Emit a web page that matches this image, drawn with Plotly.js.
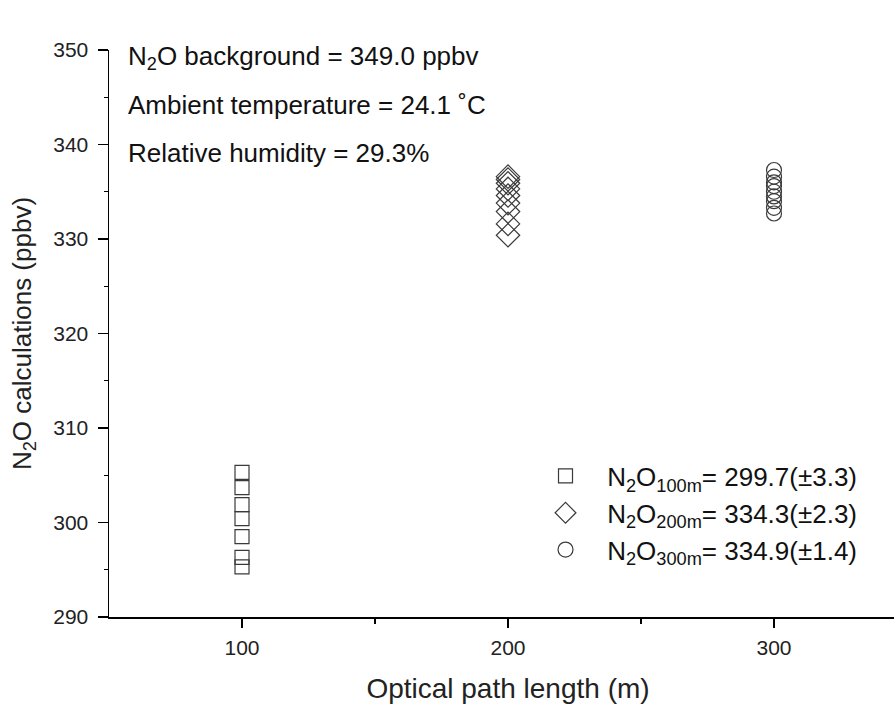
<!DOCTYPE html>
<html>
<head>
<meta charset="utf-8">
<script src="https://cdn.plot.ly/plotly-3.0.1.min.js"></script>
<style>
html,body{margin:0;padding:0;overflow:hidden;background:#fff;}
#chart{width:920px;height:704px;}
</style>
</head>
<body>
<div id="chart"></div>
<script>
// Data
const pathLengths = [100, 200, 300];
const n2o100 = [305.3, 303.7, 301.9, 300.4, 298.5, 296.3, 295.3];
const n2o200 = [336.6, 336.3, 335.9, 335.3, 334.6, 333.8, 332.9, 331.6, 330.4];
const n2o300 = [337.3, 336.6, 336.0, 335.6, 335.0, 334.5, 334.0, 333.3, 332.7];
const seriesNames = [
  '&nbsp;&nbsp;&nbsp;N<sub>2</sub>O<sub>100m</sub>= 299.7(±3.3)',
  '&nbsp;&nbsp;&nbsp;N<sub>2</sub>O<sub>200m</sub>= 334.3(±2.3)',
  '&nbsp;&nbsp;&nbsp;N<sub>2</sub>O<sub>300m</sub>= 334.9(±1.4)'
];
const xTicks = [100, 200, 300];
const yTicks = [290, 300, 310, 320, 330, 340, 350];
const infoLines = [
  'N<sub>2</sub>O background = 349.0 ppbv',
  'Ambient temperature = 24.1 ˚C',
  'Relative humidity = 29.3%'
];

const markerColor = '#3a3a3a';
function mk(xv, ys, sym, size, name) {
  return {
    x: ys.map(() => xv), y: ys, type: 'scatter', mode: 'markers', name: name,
    marker: {symbol: sym, size: size, color: markerColor, line: {color: markerColor, width: 1.2}}
  };
}
const traces = [
  mk(pathLengths[0], n2o100, 'square-open', 14, seriesNames[0]),
  mk(pathLengths[1], n2o200, 'diamond-open', 18, seriesNames[1]),
  mk(pathLengths[2], n2o300, 'circle-open', 15, seriesNames[2])
];

const font = 'Arial, "Liberation Sans", sans-serif';
const infoY = [0.986, 0.903, 0.818];
const annotations = infoLines.map((t, i) => ({
  text: t, xref: 'paper', yref: 'paper', x: 0.021, y: infoY[i],
  xanchor: 'left', yanchor: 'middle', showarrow: false,
  font: {family: font, size: 26, color: '#111'}
}));

const layout = {
  width: 920, height: 704,
  margin: {l: 109, r: 13, t: 50, b: 87},
  paper_bgcolor: '#fff', plot_bgcolor: '#fff',
  showlegend: true,
  legend: {
    x: 0.547, y: 0.290, xanchor: 'left', yanchor: 'top',
    font: {family: font, size: 26, color: '#111'},
    bgcolor: 'rgba(0,0,0,0)', borderwidth: 0
  },
  xaxis: {
    range: [50, 350], tickvals: xTicks, ticktext: xTicks.map(String),
    showgrid: false, zeroline: false, showline: true, linecolor: '#000', linewidth: 1.5,
    ticks: 'outside', ticklen: 9, tickwidth: 1.3, tickcolor: '#000',
    minor: {tickvals: [150, 250], ticks: 'outside', ticklen: 5, tickwidth: 1.3, tickcolor: '#000', showgrid: false},
    tickfont: {family: font, size: 21, color: '#222'},
    ticklabelstandoff: 2,
    title: {text: 'Optical path length (m)', font: {family: font, size: 28, color: '#222'}, standoff: 22}
  },
  yaxis: {
    range: [290, 350], tickvals: yTicks, ticktext: yTicks.map(String),
    showgrid: false, zeroline: false, showline: true, linecolor: '#000', linewidth: 1.5,
    ticks: 'outside', ticklen: 10, tickwidth: 1.3, tickcolor: '#000',
    minor: {dtick: 5, ticks: 'outside', ticklen: 4, tickwidth: 1.3, tickcolor: '#000', showgrid: false},
    tickfont: {family: font, size: 21, color: '#222'},
    ticklabelstandoff: 5,
    title: {text: 'N<sub>2</sub>O calculations (ppbv)', font: {family: font, size: 26, color: '#222'}, standoff: 14}
  },
  annotations: annotations
};

Plotly.newPlot('chart', traces, layout, {displayModeBar: false, staticPlot: true});
</script>
</body>
</html>
